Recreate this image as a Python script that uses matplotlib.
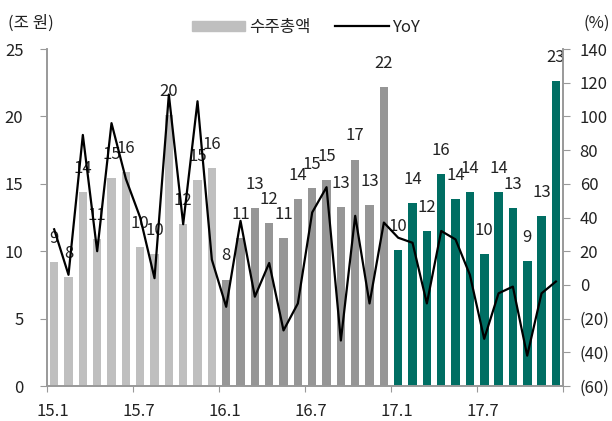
import numpy as np
import matplotlib.pyplot as plt
from matplotlib.patches import Patch
from matplotlib.lines import Line2D

plt.rcParams['font.family'] = ['Noto Sans CJK KR', 'DejaVu Sans']

# 월별 수주총액 (조 원), 15.1 ~ 17.12
months = [f"{y}.{m}" for y in (15, 16, 17) for m in range(1, 13)]
orders_2015 = [9.2, 8.1, 14.4, 10.9, 15.4, 15.9, 10.3, 9.8, 20.1, 12.0, 15.3, 16.2]
orders_2016 = [7.9, 11.0, 13.2, 12.1, 11.0, 13.9, 14.7, 15.3, 13.3, 16.8, 13.4, 22.2]
orders_2017 = [10.1, 13.6, 11.5, 15.7, 13.9, 14.4, 9.8, 14.4, 13.2, 9.3, 12.6, 22.6]
yoy = [33, 6, 89, 20, 96, 63, 40, 4, 113, 36, 109, 15,
       -13, 38, -7, 13, -27, -11, 43, 58, -33, 41, -11, 37,
       28, 25, -11, 32, 27, 6, -32, -5, -1, -42, -5, 2]
tick_labels = ['15.1', '15.7', '16.1', '16.7', '17.1', '17.7']

orders = orders_2015 + orders_2016 + orders_2017
bar_colors = ['#bfbfbf'] * 12 + ['#969696'] * 12 + ['#006e63'] * 12
axis_col = '#999999'

fig = plt.figure(figsize=(6.12, 4.21), dpi=100)
ax = fig.add_axes([0.0768, 0.0831, 0.8432, 0.8005])
ax2 = ax.twinx()

x = np.arange(len(months))
ax.bar(x, orders, width=0.6, color=bar_colors, zorder=2)
for xi, v in zip(x, orders):
    ax.annotate(f"{v:.0f}", (xi, v), xytext=(0, 17), textcoords='offset points',
                ha='center', va='center', fontsize=12, color='#222222', zorder=5)

ax2.plot(x, yoy, color='black', lw=1.6, zorder=3)

ax.set_xlim(-0.5, len(months) - 0.5)
ax.set_ylim(0, 25)
ax.set_yticks(range(0, 26, 5))
ax2.set_ylim(-60, 140)
ax2.set_yticks(range(-60, 141, 20))
ax2.set_yticklabels([f"({-t})" if t < 0 else str(t) for t in range(-60, 141, 20)])

ax.set_xticks(np.arange(0, 37, 6) - 0.5)
ax.set_xticklabels([])
ax.set_xticks([months.index(t) - 0.1 for t in tick_labels], minor=True)
ax.set_xticklabels(tick_labels, minor=True)
ax.tick_params(axis='x', which='minor', length=0, pad=12, labelsize=12, labelcolor='#222222')
ax.tick_params(axis='x', which='major', length=4, color=axis_col)
ax.tick_params(axis='y', length=5, color=axis_col, labelsize=12, labelcolor='#222222', pad=12)
ax2.tick_params(axis='y', length=5, color=axis_col, labelsize=12, labelcolor='#222222', pad=7)

for a in (ax, ax2):
    a.spines['top'].set_visible(False)
    for s in ('left', 'right', 'bottom'):
        a.spines[s].set_color(axis_col)
        a.spines[s].set_linewidth(1.2)

fig.text(0.013, 0.945, '(조 원)', fontsize=12, color='#222222', va='center')
fig.text(0.997, 0.945, '(%)', fontsize=12, color='#222222', va='center', ha='right')

handles = [Patch(color='#bfbfbf', label='수주총액'),
           Line2D([], [], color='black', lw=1.6, label='YoY')]
fig.legend(handles=handles, loc='center', bbox_to_anchor=(0.5, 0.935), ncol=2,
           frameon=False, fontsize=12, handlelength=3.2, handleheight=0.6,
           handletextpad=0.2, columnspacing=1.5, labelcolor='#222222')

fig.savefig('out.png', dpi=100)
